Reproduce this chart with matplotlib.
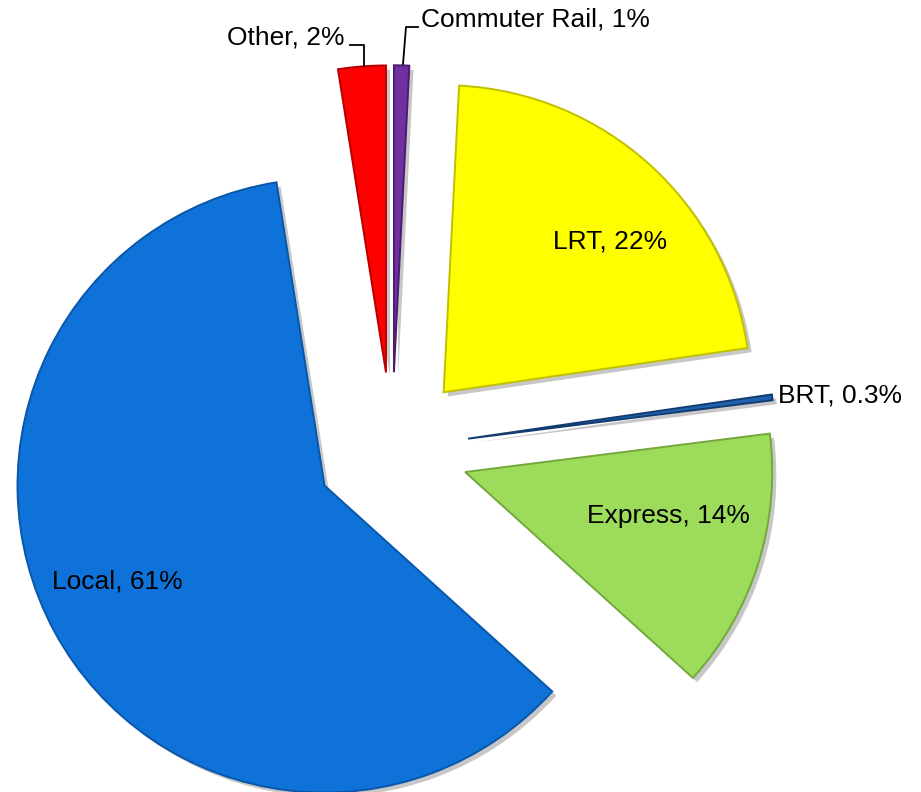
import matplotlib
matplotlib.use("Agg")
import matplotlib.pyplot as plt
import matplotlib.patheffects as pe
from matplotlib.lines import Line2D

plt.rcParams['font.family'] = ['Liberation Sans', 'DejaVu Sans']

categories = ["Commuter Rail", "LRT", "BRT", "Express", "Local", "Other"]
values = [0.8, 21.9, 0.3, 13.7, 60.8, 2.5]
value_labels = ["1%", "22%", "0.3%", "14%", "61%", "2%"]
colors = ["#7030A0", "#FFFF00", "#1F62B0", "#9DDC5A", "#0E72D8", "#FF0000"]
edge_colors = ["#4A1D70", "#C0C000", "#123C70", "#72A83C", "#0A56A8", "#B80000"]

W, H = 921, 792
fig = plt.figure(figsize=(W / 100, H / 100), dpi=100)
ax = fig.add_axes([0, 0, 1, 1])

R_PX = 307.0
CX, CY = 392.0, 449.0  # pie centre in pixels (from top-left)

wedges, _ = ax.pie(values, explode=[0.25] * len(values), colors=colors,
                   startangle=90, counterclock=False, radius=1.0,
                   wedgeprops=dict(linewidth=1.4))
for w, ec in zip(wedges, edge_colors):
    w.set_edgecolor(ec)
    w.set_joinstyle('miter')
    w.set_path_effects([pe.SimplePatchShadow(offset=(3, -3), shadow_rgbFace='#000000', alpha=0.22),
                        pe.Normal()])

ax.set_aspect('auto')
ax.set_xlim(-CX / R_PX, (W - CX) / R_PX)
ax.set_ylim(-(H - CY) / R_PX, CY / R_PX)
ax.axis('off')


def fx(px):
    return px / W


def fy(py):
    return 1 - py / H


fs = 19
texts = {c: f"{c}, {v}" for c, v in zip(categories, value_labels)}
fig.text(fx(117), fy(581), texts["Local"], ha='center', va='center', fontsize=fs)
fig.text(fx(610), fy(241), texts["LRT"], ha='center', va='center', fontsize=fs)
fig.text(fx(668), fy(516), texts["Express"], ha='center', va='center', fontsize=fs)
fig.text(fx(778), fy(396), texts["BRT"], ha='left', va='center', fontsize=fs)
fig.text(fx(344), fy(38), texts["Other"], ha='right', va='center', fontsize=fs)
fig.text(fx(421), fy(19), texts["Commuter Rail"], ha='left', va='center', fontsize=fs)

# leader lines
fig.add_artist(Line2D([fx(350), fx(364), fx(364)], [fy(45), fy(45), fy(66)],
                      color='black', lw=1.3))
fig.add_artist(Line2D([fx(418), fx(406), fx(403)], [fy(27), fy(27), fy(64)],
                      color='black', lw=1.3))

fig.savefig("out.png", dpi=100, facecolor='white')
